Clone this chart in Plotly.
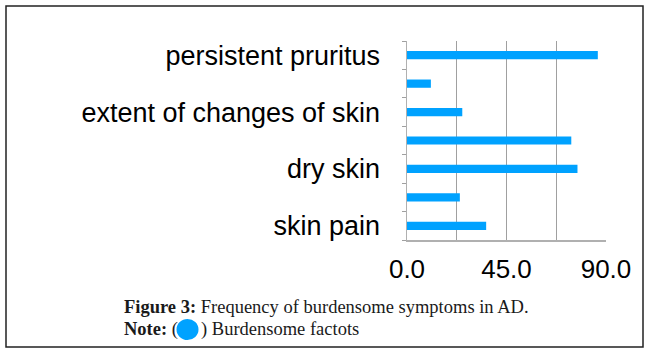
import plotly.graph_objects as go

categories = ["persistent pruritus", "unlabeled A", "extent of changes of skin",
              "unlabeled B", "dry skin", "unlabeled C", "skin pain"]
tick_labels = ["persistent pruritus", "", "extent of changes of skin",
               "", "dry skin", "", "skin pain"]
values = [86.3, 10.8, 25.0, 74.3, 77.1, 23.9, 35.8]
x_tick_vals = [0, 45, 90]
x_tick_text = ["0.0", "45.0", "90.0"]
grid_vals = [22.5, 45, 67.5]

W, H = 649, 356
L, R, T, B = 407, 606, 41, 240
PW, PH = R - L, B - T


def px(x):
    return (x - L) / PW


def py(y):
    return (B - y) / PH


BLUE = "#00A2FF"

fig = go.Figure(go.Bar(
    x=values, y=categories, orientation="h",
    marker=dict(color=BLUE, line=dict(width=0)),
))

fig.update_layout(
    template="none",
    width=W, height=H,
    margin=dict(l=L, r=W - R, t=T, b=H - B, autoexpand=False),
    paper_bgcolor="white", plot_bgcolor="white",
    bargap=0.71, showlegend=False,
    xaxis=dict(range=[0, 90], tickmode="array", tickvals=x_tick_vals,
               ticktext=x_tick_text, showgrid=False, zeroline=False,
               automargin=False,
               showline=True, linecolor="#B0B0B0", linewidth=1.5,
               ticks="", ticklabelstandoff=5,
               tickfont=dict(family="Liberation Sans", size=26, color="black"),
               minor=dict(tickmode="array", tickvals=grid_vals, showgrid=True,
                          gridcolor="#A0A0A0", gridwidth=1.2, ticks="")),
    yaxis=dict(type="category", categoryorder="array", categoryarray=categories,
               autorange="reversed", tickmode="array", tickvals=categories,
               ticktext=tick_labels, tickson="boundaries", ticks="outside",
               automargin=False,
               ticklen=4, tickcolor="#A0A0A0", showline=True,
               linecolor="#B0B0B0", linewidth=1.5, showgrid=False,
               zeroline=False, ticklabelstandoff=20,
               tickfont=dict(family="Liberation Sans", size=27, color="black")),
)

# frame
fig.add_shape(type="rect", xref="paper", yref="paper",
              x0=px(6), x1=px(643), y0=py(347), y1=py(6),
              line=dict(color="#222222", width=1.5))

cap_font = dict(family="Liberation Serif", size=18.5, color="#1a1a1a")
fig.add_annotation(xref="paper", yref="paper", x=px(122), y=py(307),
                   xanchor="left", yanchor="middle", showarrow=False,
                   text="<b>Figure 3:</b> Frequency of burdensome symptoms in AD.",
                   font=cap_font)
fig.add_annotation(xref="paper", yref="paper", x=px(122), y=py(329),
                   xanchor="left", yanchor="middle", showarrow=False,
                   text="<b>Note:</b> (", font=cap_font)
fig.add_shape(type="circle", xref="paper", yref="paper",
              x0=px(176.5), x1=px(198.5), y0=py(340), y1=py(319),
              fillcolor=BLUE, line=dict(width=0))
fig.add_annotation(xref="paper", yref="paper", x=px(198.5), y=py(329),
                   xanchor="left", yanchor="middle", showarrow=False,
                   text=") Burdensome factots", font=cap_font)

fig.write_html("out.html",
               config={"displayModeBar": False, "staticPlot": True},
               post_script="document.body.style.margin='0';"
                           "document.body.style.overflow='hidden';")
